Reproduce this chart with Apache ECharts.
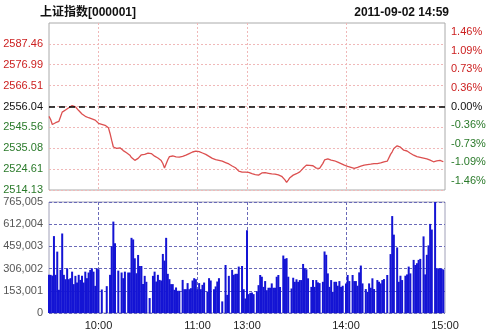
<!DOCTYPE html>
<html>
<head>
<meta charset="utf-8">
<script src="https://cdn.jsdelivr.net/npm/echarts@6/dist/echarts.min.js"></script>
<style>
html,body{margin:0;padding:0;background:#fff;}
#c{width:490px;height:334px;}
</style>
</head>
<body>
<div id="c"></div>
<script>
// ---- data ----
const titleText = '上证指数[000001]';
const dateText = '2011-09-02 14:59';
const prevClose = 2556.04;
const priceMin = 2514.13;
const priceMax = 2597.94;
const priceTicks = [2514.13, 2524.61, 2535.08, 2545.56, 2556.04, 2566.51, 2576.99, 2587.46];
const pctMin = -1.643;
const pctMax = 1.643;
const pctTicks = [-1.46, -1.095, -0.73, -0.365, 0, 0.365, 0.73, 1.095, 1.46];
const pctLabels = ['-1.46%', '-1.09%', '-0.73%', '-0.36%', '0.00%', '0.36%', '0.73%', '1.09%', '1.46%'];
const volMax = 765005;
const volStep = 153001;
const xTickLabels = ['10:00', '11:00', '13:00', '14:00', '15:00'];
const xGridLabels = ['10:00', '11:00', '13:00', '14:00'];

const prices = [
2551.1, 2549.5, 2547.0, 2546.8, 2547.9, 2547.5, 2548.6, 2550.9, 2553.2, 2554.1,
2554.3, 2553.9, 2555.4, 2555.9, 2556.5, 2556.4, 2555.9, 2555.3, 2554.0, 2553.2,
2552.3, 2552.0, 2551.1, 2550.7, 2550.4, 2550.0, 2549.8, 2549.6, 2549.2, 2548.9,
2547.6, 2547.3, 2547.1, 2546.9, 2546.6, 2546.0, 2545.4, 2542.5, 2539.0, 2535.7,
2535.3, 2535.0, 2535.4, 2535.3, 2534.6, 2533.9, 2533.4, 2532.8, 2532.2, 2531.6,
2530.4, 2529.4, 2529.0, 2529.2, 2530.0, 2530.9, 2531.8, 2532.4, 2532.0, 2532.1,
2532.6, 2532.9, 2532.4, 2531.7, 2531.1, 2530.6, 2530.2, 2529.9, 2528.9, 2527.4,
2525.2, 2524.6, 2529.3, 2530.9, 2531.6, 2531.2, 2531.4, 2530.8, 2531.0, 2530.6,
2530.8, 2531.0, 2531.3, 2531.6, 2532.0, 2532.4, 2533.0, 2533.2, 2533.5, 2533.6,
2533.8, 2533.4, 2533.0, 2532.7, 2532.5, 2532.0, 2531.5, 2531.0, 2530.3, 2530.0,
2529.7, 2529.4, 2529.1, 2529.0, 2528.7, 2528.6, 2528.3, 2527.9, 2527.5, 2527.2,
2526.6, 2526.2, 2525.8, 2525.3, 2524.5, 2523.6, 2523.3, 2523.1, 2523.0, 2523.1,
2523.2, 2523.0, 2522.7, 2522.4, 2522.0, 2521.9, 2521.7, 2521.6, 2522.2, 2522.7,
2523.0, 2522.8, 2522.6, 2522.5, 2522.3, 2522.2, 2522.1, 2522.1, 2521.9, 2521.7,
2521.6, 2521.0, 2520.3, 2519.2, 2518.0, 2519.1, 2520.3, 2520.9, 2521.6, 2521.9,
2522.3, 2522.5, 2523.2, 2524.1, 2525.0, 2525.9, 2526.6, 2526.8, 2526.5, 2526.6,
2526.3, 2525.8, 2525.1, 2524.6, 2525.0, 2525.8, 2527.5, 2529.2, 2530.0, 2529.7,
2529.4, 2529.1, 2528.9, 2528.8, 2528.6, 2528.1, 2527.8, 2527.4, 2527.0, 2526.6,
2526.3, 2526.0, 2525.8, 2525.5, 2525.2, 2525.0, 2525.3, 2525.5, 2525.8, 2526.1,
2526.4, 2526.6, 2526.8, 2526.9, 2527.0, 2527.1, 2527.2, 2527.4, 2527.3, 2527.4,
2527.4, 2527.7, 2528.0, 2528.3, 2528.5, 2528.6, 2529.6, 2532.0, 2533.3, 2535.0,
2535.8, 2536.3, 2536.6, 2535.6, 2535.0, 2534.1, 2533.9, 2533.7, 2533.6, 2532.6,
2531.9, 2531.6, 2531.2, 2530.9, 2530.8, 2530.5, 2530.3, 2530.1, 2530.0, 2529.7,
2529.4, 2529.1, 2528.8, 2528.3, 2528.5, 2528.7, 2528.6, 2529.0, 2529.5, 2528.3
];

const volumes = [
263000, 263000, 258000, 530000, 263000, 423000, 160000, 297000, 548000, 263000,
233000, 308000, 233000, 240000, 285000, 199000, 256000, 210000, 263000, 228000,
256000, 210000, 285000, 240000, 279000, 297000, 308000, 285000, 187000, 308000,
301000, 0, 162000, 0, 0, 185000, 0, 263000, 460000, 630000,
480000, 0, 292000, 0, 279000, 240000, 285000, 0, 279000, 279000,
518000, 507000, 377000, 274000, 400000, 324000, 324000, 200000, 256000, 215000,
0, 103000, 0, 256000, 285000, 217000, 263000, 228000, 224000, 407000,
361000, 518000, 270000, 233000, 199000, 199000, 160000, 176000, 153000, 153000,
0, 228000, 164000, 164000, 206000, 164000, 171000, 224000, 240000, 233000,
164000, 206000, 164000, 194000, 210000, 0, 148000, 240000, 224000, 0,
164000, 183000, 217000, 240000, 0, 80000, 0, 331000, 125000, 256000,
0, 297000, 263000, 270000, 270000, 320000, 0, 324000, 164000, 100000,
570000, 130000, 139000, 141000, 130000, 0, 150000, 192000, 262000, 250000,
180000, 220000, 157000, 174000, 174000, 204000, 174000, 174000, 250000, 262000,
180000, 0, 396000, 373000, 378000, 250000, 0, 169000, 243000, 215000,
232000, 215000, 227000, 227000, 338000, 308000, 301000, 239000, 0, 180000,
227000, 180000, 227000, 211000, 206000, 0, 215000, 424000, 401000, 273000,
180000, 227000, 146000, 215000, 215000, 188000, 220000, 180000, 188000, 0,
204000, 262000, 220000, 0, 262000, 220000, 220000, 188000, 280000, 327000,
204000, 0, 165000, 146000, 204000, 174000, 239000, 165000, 0, 227000,
215000, 204000, 227000, 234000, 0, 262000, 0, 406000, 668000, 540000,
0, 452000, 215000, 257000, 227000, 0, 257000, 266000, 320000, 273000,
0, 366000, 331000, 343000, 366000, 373000, 0, 528000, 266000, 401000,
466000, 614000, 575000, 0, 765000, 308000, 308000, 308000, 305000, 300000
];

// trading-minute categories: 9:30-11:29, 13:00-15:00
const categories = [];
function pad(n) { return (n < 10 ? '0' : '') + n; }
for (let m = 9 * 60 + 30; m < 11 * 60 + 30; m++) categories.push(Math.floor(m / 60) + ':' + pad(m % 60));
for (let m = 13 * 60; m <= 15 * 60; m++) categories.push(Math.floor(m / 60) + ':' + pad(m % 60));

// ---- chart ----
const FONT = 'Liberation Sans, Arial, Noto Sans CJK SC, sans-serif';
const RED = '#cc2020';
const GREEN = '#2a7a2a';
function findLabel(ticks, v) {
  v = parseFloat(v);
  for (let i = 0; i < ticks.length; i++) if (Math.abs(ticks[i] - v) < 1e-6) return i;
  return -1;
}

const chart = echarts.init(document.getElementById('c'), null, { renderer: 'canvas' });
chart.setOption({
  backgroundColor: '#ffffff',
  animation: false,
  title: [
    { text: titleText, left: 35, top: 2, textStyle: { fontFamily: FONT, fontSize: 12, fontWeight: 'bold', color: '#111' } },
    { text: dateText, right: 36, top: 2, textStyle: { fontFamily: FONT, fontSize: 12, fontWeight: 'bold', color: '#111' } }
  ],
  grid: [
    { left: 49, top: 23, width: 396, height: 167, show: true, borderColor: '#aaaaaa', borderWidth: 1, backgroundColor: 'transparent' },
    { left: 49, top: 202, width: 396, height: 111, show: true, borderColor: '#a0a0b8', borderWidth: 1, backgroundColor: 'transparent' }
  ],
  xAxis: [
    {
      type: 'category', gridIndex: 0, data: categories, boundaryGap: false,
      axisLine: { show: false }, axisTick: { show: false }, axisLabel: { show: false },
      splitLine: { show: true, interval: (i) => xGridLabels.indexOf(categories[i]) >= 0,
        lineStyle: { color: '#f0b8b8', type: [2, 2], width: 1 } }
    },
    {
      type: 'category', gridIndex: 1, data: categories, boundaryGap: false,
      axisLine: { show: false }, axisTick: { show: false },
      axisLabel: { show: true, interval: (i) => xTickLabels.indexOf(categories[i]) >= 0,
        fontFamily: FONT, fontSize: 11, color: '#222', margin: 7 },
      splitLine: { show: true, interval: (i) => xGridLabels.indexOf(categories[i]) >= 0,
        lineStyle: { color: '#6a6ab8', type: [3, 2], width: 1 } }
    }
  ],
  yAxis: [
    {
      type: 'value', gridIndex: 0, min: priceMin, max: priceMax, position: 'left',
      axisLine: { show: false },
      axisTick: { show: false, customValues: priceTicks },
      axisLabel: {
        customValues: priceTicks, margin: 6, fontFamily: FONT, fontSize: 11,
        formatter: (v) => Number(v).toFixed(2),
        color: (v) => { v = parseFloat(v); return Math.abs(v - prevClose) < 0.005 ? '#111' : (v > prevClose ? RED : GREEN); }
      },
      splitLine: { show: true, lineStyle: { color: '#f0b8b8', type: [2, 2], width: 1 } }
    },
    {
      type: 'value', gridIndex: 0, min: pctMin, max: pctMax, position: 'right',
      axisLine: { show: false },
      axisTick: { show: false, customValues: pctTicks },
      axisLabel: {
        customValues: pctTicks, margin: 6, fontFamily: FONT, fontSize: 11,
        formatter: (v) => { const i = findLabel(pctTicks, v); return i >= 0 ? pctLabels[i] : ''; },
        color: (v) => { v = parseFloat(v); return Math.abs(v) < 1e-6 ? '#111' : (v > 0 ? RED : GREEN); }
      },
      splitLine: { show: false }
    },
    {
      type: 'value', gridIndex: 1, min: 0, max: volMax, interval: volStep,
      axisLine: { show: false }, axisTick: { show: false },
      axisLabel: { margin: 6, fontFamily: FONT, fontSize: 11, color: '#555',
        formatter: (v) => Number(v).toLocaleString('en-US') },
      splitLine: { show: true, lineStyle: { color: '#6a6ab8', type: [3, 2], width: 1 } }
    }
  ],
  series: [
    {
      type: 'line', xAxisIndex: 0, yAxisIndex: 0, data: prices,
      showSymbol: false, symbol: 'none',
      lineStyle: { color: '#dc5050', width: 1.3 },
      markLine: {
        silent: true, symbol: 'none', label: { show: false },
        lineStyle: { color: '#000', type: [6, 4], width: 1.5 },
        data: [{ yAxis: prevClose }]
      },
      z: 3
    },
    {
      type: 'bar', xAxisIndex: 1, yAxisIndex: 2, data: volumes,
      barWidth: 2, barGap: '-100%', itemStyle: { color: '#1414d4' }, z: 2
    }
  ]
});
</script>
</body>
</html>
